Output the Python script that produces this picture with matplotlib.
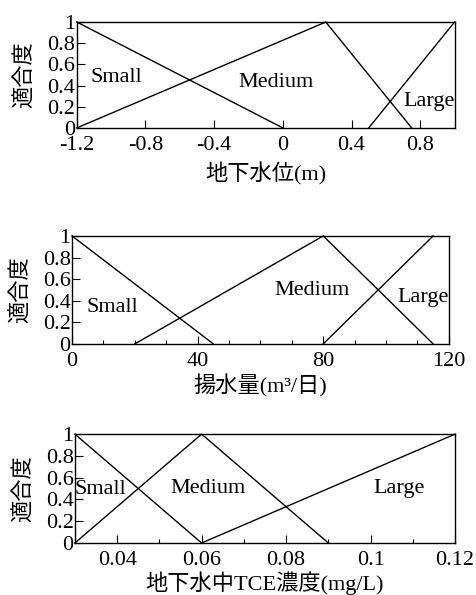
import matplotlib
matplotlib.use("Agg")
import matplotlib.pyplot as plt
from matplotlib.ticker import MultipleLocator, FuncFormatter

plt.rcParams['font.family'] = ['Liberation Serif', 'Noto Sans CJK JP']
plt.rcParams['axes.unicode_minus'] = False

# membership functions: (x points, y points)
lvl_small_x = [-1.2, 0.0]
lvl_small_y = [1, 0]
lvl_med_x = [-1.2, 0.25, 0.75]
lvl_med_y = [0, 1, 0]
lvl_large_x = [0.5, 1.0]
lvl_large_y = [0, 1]

pump_small_x = [0, 45]
pump_small_y = [1, 0]
pump_med_x = [20, 80, 115]
pump_med_y = [0, 1, 0]
pump_large_x = [80, 115]
pump_large_y = [0, 1]

tce_small_x = [0.03, 0.06]
tce_small_y = [1, 0]
tce_med_x = [0.03, 0.06, 0.09]
tce_med_y = [0, 1, 0]
tce_large_x = [0.06, 0.12]
tce_large_y = [0, 1]

labels = ['Small', 'Medium', 'Large']
xlabels = ['地下水位(m)', '揚水量(m³/日)', '地下水中TCE濃度(mg/L)']
ylabel = '適合度'

fig = plt.figure(figsize=(4.77, 5.95), dpi=100)
ax1 = fig.add_axes([0.161, 0.785, 0.792, 0.178])
ax2 = fig.add_axes([0.151, 0.422, 0.790, 0.1815])
ax3 = fig.add_axes([0.157, 0.0874, 0.797, 0.183])

fs = 16


def yfmt(v, pos):
    return '%g' % round(v, 2)


def style(ax, xlim, xmaj, xmin, xlab, lpad):
    ax.set_xlim(*xlim)
    ax.set_ylim(0, 1)
    ax.xaxis.set_major_locator(MultipleLocator(xmaj))
    if xmin:
        ax.xaxis.set_minor_locator(MultipleLocator(xmin))
    ax.yaxis.set_major_locator(MultipleLocator(0.2))
    ax.yaxis.set_major_formatter(FuncFormatter(yfmt))
    ax.xaxis.set_major_formatter(FuncFormatter(yfmt))
    ax.tick_params(direction='in', labelsize=fs, length=6, width=0.8)
    ax.tick_params(axis='x', pad=6)
    ax.tick_params(axis='y', pad=1)
    ax.tick_params(which='minor', direction='in', length=3, width=0.8)
    ax.set_xlabel(xlab, fontsize=fs, labelpad=lpad)
    ax.set_ylabel(ylabel, fontsize=fs, labelpad=8)
    for s in ax.spines.values():
        s.set_linewidth(1.0)


kw = dict(color='black', lw=1.0, clip_on=False)

ax1.plot(lvl_small_x, lvl_small_y, **kw)
ax1.plot(lvl_med_x, lvl_med_y, **kw)
ax1.plot(lvl_large_x, lvl_large_y, **kw)
style(ax1, (-1.2, 1.0), 0.4, None, xlabels[0], 5)
ax1.text(-1.12, 0.48, labels[0], fontsize=fs, va='center')
ax1.text(-0.26, 0.43, labels[1], fontsize=fs, va='center')
ax1.text(0.70, 0.25, labels[2], fontsize=fs, va='center')

ax2.plot(pump_small_x, pump_small_y, **kw)
ax2.plot(pump_med_x, pump_med_y, **kw)
ax2.plot(pump_large_x, pump_large_y, **kw)
style(ax2, (0, 120), 40, 10, xlabels[1], 2.5)
ax2.text(4.5, 0.34, labels[0], fontsize=fs, va='center')
ax2.text(64.3, 0.49, labels[1], fontsize=fs, va='center')
ax2.text(103.5, 0.43, labels[2], fontsize=fs, va='center')

ax3.plot(tce_small_x, tce_small_y, **kw)
ax3.plot(tce_med_x, tce_med_y, **kw)
ax3.plot(tce_large_x, tce_large_y, **kw)
style(ax3, (0.03, 0.12), 0.02, 0.01, xlabels[2], 0.5)
ax3.xaxis.set_major_locator(plt.FixedLocator([0.04, 0.06, 0.08, 0.1, 0.12]))
ax3.text(0.0298, 0.49, labels[0], fontsize=fs, va='center')
ax3.text(0.0525, 0.5, labels[1], fontsize=fs, va='center')
ax3.text(0.1006, 0.5, labels[2], fontsize=fs, va='center')

fig.savefig('out.png', dpi=100)
